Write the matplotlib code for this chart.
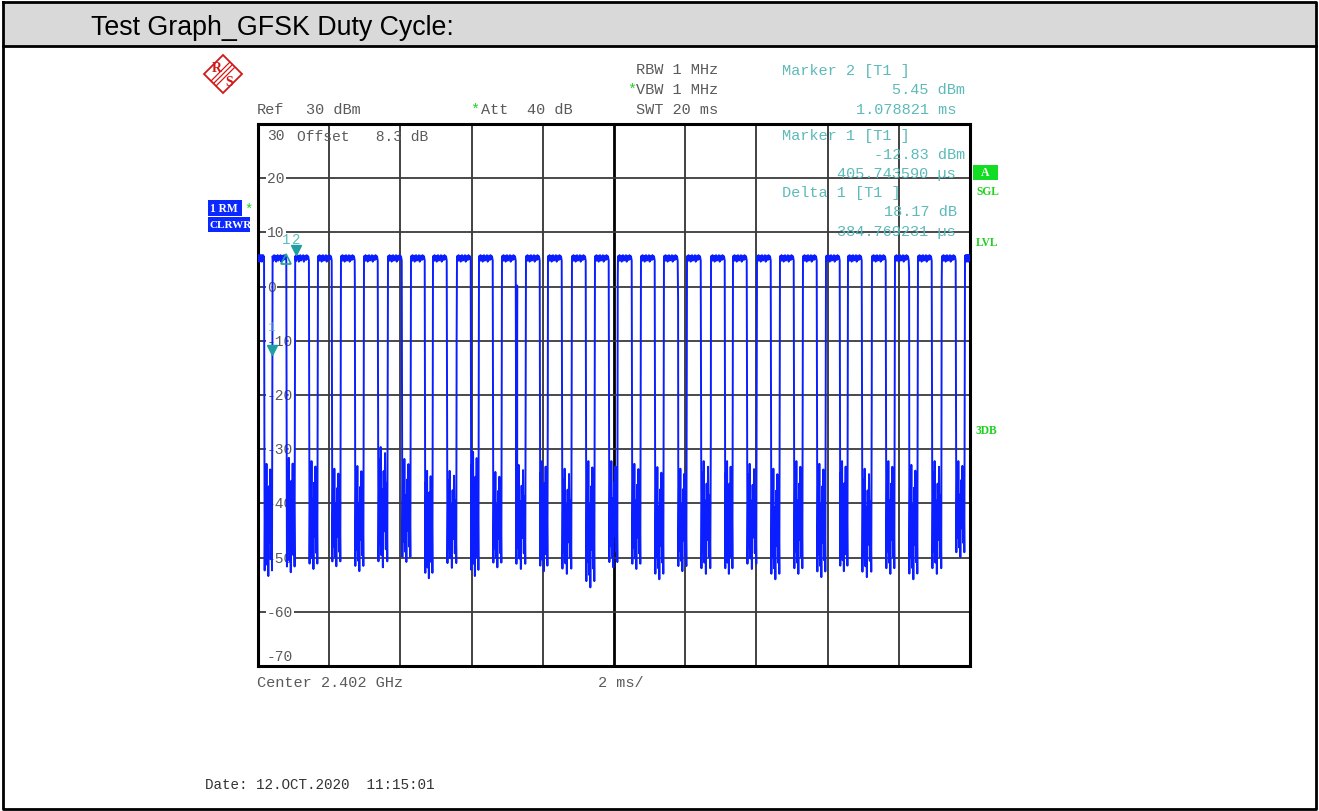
import numpy as np
import matplotlib.pyplot as plt
from matplotlib.patches import Rectangle, Polygon

# ---- trace data (time in ms, level in dBm) ----
first_burst_end = 0.17
pulse_start = [0.41, 1.045, 1.685, 2.331, 2.978, 3.652, 4.298, 4.916, 5.590, 6.208,
               6.854, 7.528, 8.146, 8.820, 9.466, 10.112, 10.758, 11.404, 12.051,
               12.725, 13.343, 14.017, 14.663, 15.309, 15.955, 16.573, 17.247,
               17.893, 18.539, 19.213, 19.860]
on_time = 0.385
on_ripple = [5.6, 4.7, 5.8, 5.0, 5.7, 4.6, 5.5, 5.8, 4.8, 5.6, 5.0, 5.8, 4.6, 5.5,
             5.7, 4.9, 5.8, 5.1, 5.6, 4.8]
# top / bottom of the noise bursts between pulses
gap_hi = [-32.7, -31.6, -32.2, -33.6, -33.1, -29.6, -31.8, -34.0, -34.0, -30.5,
          -34.2, -32.9, -32.2, -33.6, -32.2, -32.2, -32.7, -33.3, -33.6, -32.2,
          -32.2, -32.7, -33.6, -32.2, -32.7, -32.2, -33.6, -32.2, -32.9, -32.2, -32.2]
gap_lo = [-53.4, -52.7, -52.1, -51.6, -52.5, -51.8, -50.8, -53.8, -51.9, -53.4,
          -51.8, -52.1, -52.5, -53.0, -55.5, -51.8, -52.1, -54.0, -52.5, -53.0,
          -53.0, -52.1, -54.0, -53.0, -53.6, -52.5, -53.6, -53.0, -54.0, -53.0, -49.9]
noise_shape = [0.95, 0.1, 0.8, 0.0, 0.9, 0.35, 1.0, 0.2, 0.7, 0.05, 0.85, 0.3, 0.95]
# stray samples caught on the pulse edges
dip_t = [0.175, 0.4057, 1.04, 2.72, 2.975, 4.69, 5.58, 7.28, 8.14, 10.105,
         11.80, 12.72, 13.74, 14.66, 17.24, 18.29, 19.205]
dip_lvl = [-11.5, -12.83, -6.2, 1.3, 3.3, -17.5, -9.2, 0.2, -23.0, 1.5,
           -2.2, -28.0, -28.0, -0.9, -20.7, 2.8, 0.7]

# marker readouts
m1_t, m1_lvl = 0.405743590, -12.83
m2_t, m2_lvl = 1.078821, 5.45
d1_t, d1_lvl = 0.384769231, 18.17

y_ticks = [30, 20, 10, 0, -10, -20, -30, -40, -50, -60, -70]

# ---- build the sweep ----
t_pts, y_pts = [], []


def add_on(t0, t1):
    t_pts.extend(np.linspace(t0, t1, len(on_ripple)))
    y_pts.extend(on_ripple)


def add_gap(t0, t1, hi, lo):
    tt = np.linspace(t0, t1, len(noise_shape) + 2)[1:-1]
    t_pts.extend(tt)
    y_pts.extend([hi + f * (lo - hi) for f in noise_shape])


add_on(0.0, first_burst_end)
prev_end = first_burst_end
for k, ts in enumerate(pulse_start):
    add_gap(prev_end, ts, gap_hi[k], gap_lo[k])
    te = min(ts + on_time, 20.0)
    add_on(ts, te)
    prev_end = te
t_pts.extend(dip_t)
y_pts.extend(dip_lvl)
order = np.argsort(t_pts, kind='stable')
t_arr = np.array(t_pts)[order]
y_arr = np.array(y_pts)[order]

# ---- figure ----
W, H = 1319, 812
fig = plt.figure(figsize=(W / 100, H / 100), dpi=100)
fig.patch.set_facecolor('white')

bg = fig.add_axes([0, 0, 1, 1], zorder=0)
bg.set_xlim(0, W)
bg.set_ylim(H, 0)
bg.axis('off')
bg.add_patch(Rectangle((3, 3), W - 6, 44, facecolor='#d9d9d9', edgecolor='none'))
bg.text(91, 28, 'Test Graph_GFSK Duty Cycle:', fontsize=19.3, family='Liberation Sans',
        va='center', ha='left', color='black')

mono = 'Liberation Mono'
gray = '#5a5a5a'
teal = '#5cbaba'
green = '#1ed21e'
blue_tr = '#0a1eff'

ax = fig.add_axes([258 / W, 1 - 667 / H, 712 / W, 542 / H], zorder=2)
ax.set_facecolor('none')
ax.plot(t_arr, y_arr, color=blue_tr, lw=1.4, zorder=4)
ax.set_xlim(0, 20)
ax.set_ylim(-70, 30)
ax.set_xticks([])
ax.set_yticks([])
for xv in range(2, 20, 2):
    if xv == 10:
        ax.axvline(xv, color='black', lw=2.0, zorder=1)
    else:
        ax.axvline(xv, color='#333333', lw=1.3, zorder=1)
for yv in y_ticks[1:-1]:
    ax.axhline(yv, color='#3a3a3a', lw=1.3, zorder=1)
for sp in ax.spines.values():
    sp.set_linewidth(2.2)
    sp.set_color('black')

for yv in y_ticks:
    if yv == 30:
        ax.text(0.25, 27.9, str(yv), family=mono, fontsize=10.5, color=gray,
                va='center', ha='left', zorder=2)
    elif yv == -70:
        ax.text(0.25, -68.2, str(yv), family=mono, fontsize=10.5, color=gray,
                va='center', ha='left', zorder=2)
    else:
        ax.text(0.25, yv, str(yv), family=mono, fontsize=10.5, color=gray,
                va='center', ha='left', zorder=2,
                bbox=dict(facecolor='white', edgecolor='none', pad=0.8))

# markers
mcol = '#1f9f9f'
ax.plot([m2_t], [m2_lvl + 1.3], marker='v', color=mcol, ms=7, ls='none', zorder=5)
ax.plot([m1_t], [m1_lvl + 1.1], marker='v', color=mcol, ms=7, ls='none', zorder=5)
ax.plot([m1_t + d1_t], [m1_lvl + d1_lvl - 0.3], marker='^', mfc='none', mec=mcol,
        mew=1.2, ms=7, ls='none', zorder=5)
ax.text(m1_t + d1_t, m2_lvl + 3.4, '1', family=mono, fontsize=10, color=teal,
        ha='center', va='center', zorder=5)
ax.text(m2_t, m2_lvl + 3.4, '2', family=mono, fontsize=10, color=teal,
        ha='center', va='center', zorder=5)
ax.text(m1_t - 0.05, m1_lvl + 5.3, '1', family=mono, fontsize=9, color=teal,
        ha='center', va='center', zorder=5, alpha=0.7)

# ---- overlay annotations (pixel coordinates) ----
ov = fig.add_axes([0, 0, 1, 1], zorder=5)
ov.set_xlim(0, W)
ov.set_ylim(H, 0)
ov.axis('off')
ov.patch.set_alpha(0)

fs = 11


def txt(x, y, s, c=gray, **kw):
    ov.text(x, y, s, family=mono, fontsize=kw.pop('size', fs), color=c,
            va='center', ha=kw.pop('ha', 'left'), **kw)


txt(636, 70, 'RBW 1 MHz')
txt(627, 90, '*', c=green)
txt(636, 90, 'VBW 1 MHz')
txt(636, 110, 'SWT 20 ms')
txt(257, 110, 'Ref')
txt(306, 110, '30 dBm')
txt(470, 110, '*', c=green)
txt(481, 110, 'Att')
txt(527, 110, '40 dB')
txt(297, 137, 'Offset   8.3 dB', size=10.5)

txt(782, 71, 'Marker 2 [T1 ]', c=teal)
txt(892, 90, '5.45 dBm', c=teal)
txt(856, 110, '1.078821 ms', c=teal)
txt(782, 136, 'Marker 1 [T1 ]', c=teal)
txt(874, 155, '-12.83 dBm', c=teal)
txt(837, 174, '405.743590 \u00b5s', c=teal)
txt(782, 193, 'Delta 1 [T1 ]', c=teal)
txt(884, 212, '18.17 dB', c=teal)
txt(837, 232, '384.769231 \u00b5s', c=teal)

txt(257, 683, 'Center 2.402 GHz')
txt(598, 683, '2 ms/')
ov.text(205, 785, 'Date: 12.OCT.2020  11:15:01', family=mono, fontsize=10.3,
        color='#333333', va='center', ha='left')

# side status boxes
ser = 'Liberation Serif'
ov.add_patch(Rectangle((973, 166), 25, 15, facecolor='#12dd22', edgecolor='none'))
ov.text(985.5, 173.5, 'A', family=ser, fontsize=8.5, weight='bold', color='white',
        ha='center', va='center')
for yy, s in [(192, 'SGL'), (243, 'LVL'), (431, '3DB')]:
    ov.text(976, yy, s, family=ser, fontsize=8.3, weight='bold', color=green,
            ha='left', va='center')
ov.add_patch(Rectangle((208, 201), 34, 16, facecolor='#0a28ff', edgecolor='none'))
ov.text(210, 209, '1 RM', family=ser, fontsize=8.3, weight='bold', color='white',
        ha='left', va='center')
ov.text(249, 210, '*', family=mono, fontsize=10, color=green, ha='center', va='center')
ov.add_patch(Rectangle((208, 218), 42, 15, facecolor='#0a28ff', edgecolor='none'))
ov.text(209, 226, 'CLRWR', family=ser, fontsize=8.0, weight='bold', color='white',
        ha='left', va='center')

# R&S logo
red = '#d01818'
cx, cy, r = 223, 75, 19
ov.add_patch(Polygon([(cx, cy - r), (cx + r, cy), (cx, cy + r), (cx - r, cy)],
                     closed=True, facecolor='white', edgecolor=red, lw=1.3))
for off in (-2.5, 0, 2.5):
    ov.plot([cx + 9 + off, cx - 9 + off], [cy - 9 + off, cy + 9 + off],
            color=red, lw=0.9)
ov.text(cx - 6, cy - 6, 'R', family=ser, fontsize=10, weight='bold', color=red,
        ha='center', va='center')
ov.text(cx + 6, cy + 7, 'S', family=ser, fontsize=10, weight='bold', color=red,
        ha='center', va='center')

# page frame
ov.plot([3, W - 3, W - 3, 3, 3], [3, 3, H - 2, H - 2, 3], color='black', lw=2)
ov.plot([3, W - 3], [47, 47], color='black', lw=2)

fig.savefig('out.png', dpi=100)
